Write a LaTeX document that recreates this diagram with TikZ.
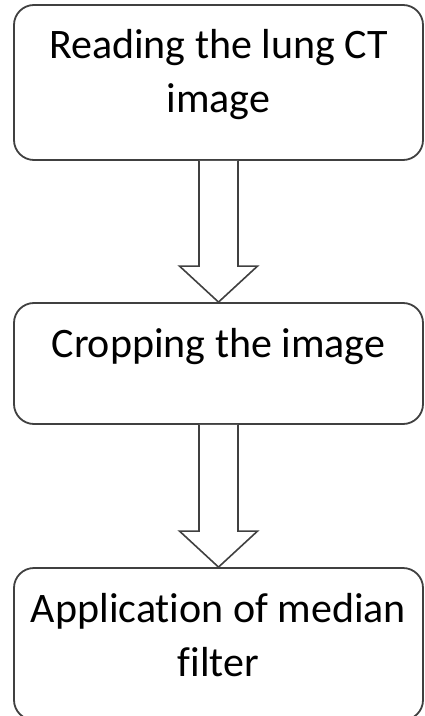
\documentclass[tikz,border=0pt]{standalone}
\usepackage{fontspec}
\setmainfont[Ligatures=NoCommon]{Carlito}

\tikzset{
  stepbox/.style={draw=black!75, line width=0.9pt, rounded corners=10pt,
    inner sep=0pt, fill=white},
  hollow/.style={draw=black!75, line width=0.8pt, fill=white},
}

% text of a box, first baseline 27pt below its top
\newcommand{\boxtext}[2]{\parbox[c][#1][t]{204.5pt}{\centering
  \fontsize{21}{27}\selectfont\rule{0pt}{27pt}#2}}

% hollow block arrow from the bottom of #1 to the top of #2
\newcommand{\blockarrow}[2]{%
  \draw[hollow] ([xshift=-9.75pt]#1.south) -- ([xshift=-9.75pt,yshift=18pt]#2.north)
    -- ([xshift=-19.5pt,yshift=18pt]#2.north) -- (#2.north)
    -- ([xshift=19.5pt,yshift=18pt]#2.north) -- ([xshift=9.75pt,yshift=18pt]#2.north)
    -- ([xshift=9.75pt]#1.south);}

\begin{document}
\begin{tikzpicture}[x=1pt,y=1pt]

    \path[use as bounding box,clip] (0,0) rectangle (212,-358);

    \node[stepbox] (read) at (109.25,-41.25) {\boxtext{77.5pt}{Reading the lung CT\\image}};%step 1
    \node[stepbox] (crop) at (109.25,-181.75) {\boxtext{60.5pt}{Cropping the image}};%step 2
    \node[stepbox] (median) at (109.25,-322) {\boxtext{76pt}{Application of median\\filter}};%step 3

    %arrows between steps
    \blockarrow{read}{crop}
    \blockarrow{crop}{median}

\end{tikzpicture}
\end{document}
